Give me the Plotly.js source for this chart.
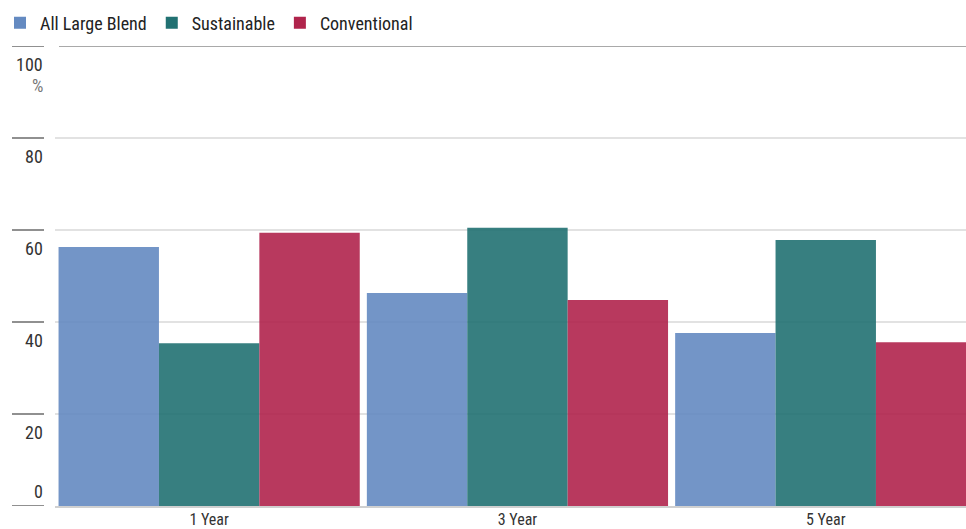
<!DOCTYPE html>
<html>
<head>
<meta charset="utf-8">
<script src="https://cdn.plot.ly/plotly-3.0.1.min.js"></script>
<style>html,body{margin:0;padding:0;background:#fff;}#chart{width:966px;height:529px;}</style>
</head>
<body>
<div id="chart"></div>
<script>
var categories = ["1 Year", "3 Year", "5 Year"];
var seriesNames = ["All Large Blend", "Sustainable", "Conventional"];
var allLargeBlend = [56.3, 46.3, 37.6];
var sustainable = [35.4, 60.5, 57.8];
var conventional = [59.4, 44.8, 35.6];
var yTickValues = [0, 20, 40, 60, 80, 100];
var yTickLabels = ["0", "20", "40", "60", "80", "100"];
var seriesColors = ["rgb(100,138,193)", "rgb(33,113,114)", "rgb(176,36,76)"];

var FONT = "'Liberation Sans Narrow', 'Roboto Condensed', Roboto, sans-serif";
var W = 966, ML = 55, PW = W - ML;
var catPx = 308.3;

function px2paper(px){ return (px - ML) / PW; }

var values = [allLargeBlend, sustainable, conventional];
var traces = values.map(function(v, i){
  return {
    type: "bar", name: seriesNames[i], x: categories, y: v,
    marker: {color: seriesColors[i], opacity: 0.9, line: {width: 0}},
    hoverinfo: "x+y+name"
  };
});

var shapes = [];
var annotations = [];
yTickValues.forEach(function(t, i){
  shapes.push({type: "line", xref: "paper", yref: "y", x0: px2paper(12), x1: px2paper(44), y0: t, y1: t,
    line: {color: "#6b6b6b", width: 1.5}, layer: "above"});
  annotations.push({xref: "paper", yref: "y", x: px2paper(45), y: t, yshift: t === 0 ? 15 : -18,
    xanchor: "right", yanchor: "middle",
    text: yTickLabels[i], showarrow: false, font: {family: FONT, size: 18, color: "#333"}});
});
annotations.push({xref: "paper", yref: "y", x: px2paper(45), y: 100, yshift: -39, xanchor: "right", yanchor: "middle",
  text: "%", showarrow: false, font: {family: FONT, size: 18, color: "#777"}});
shapes.push({type: "line", xref: "paper", yref: "y", x0: px2paper(59), x1: 1, y0: 100, y1: 100,
  line: {color: "#555", width: 1.2}, layer: "above"});

var layout = {
  width: 966, height: 529,
  margin: {l: ML, r: 0, t: 46, b: 23, autoexpand: false},
  paper_bgcolor: "#fff", plot_bgcolor: "#fff",
  barmode: "group", bargap: 0.023, bargroupgap: 0,
  font: {family: FONT, size: 17, color: "#333"},
  showlegend: true,
  legend: {orientation: "h", x: px2paper(0), xanchor: "left", y: (506 - 23) / 460, yanchor: "middle",
    font: {family: FONT, size: 18, color: "#222"}, itemwidth: 30, traceorder: "normal", bgcolor: "rgba(0,0,0,0)"},
  xaxis: {type: "category", range: [-0.5, -0.5 + PW / catPx], showgrid: false, zeroline: false,
    showline: true, linecolor: "#d0d0d0", linewidth: 1.5, ticks: "", ticklabelstandoff: -2,
    tickfont: {family: FONT, size: 16, color: "#333"}, fixedrange: true},
  yaxis: {range: [0, 100], tickvals: yTickValues, showticklabels: false, showgrid: true, gridcolor: "#e2e2e2",
    gridwidth: 1.5, zeroline: false, showline: false, ticks: "", fixedrange: true},
  shapes: shapes,
  annotations: annotations
};

Plotly.newPlot("chart", traces, layout, {displayModeBar: false, staticPlot: true});
</script>
</body>
</html>
